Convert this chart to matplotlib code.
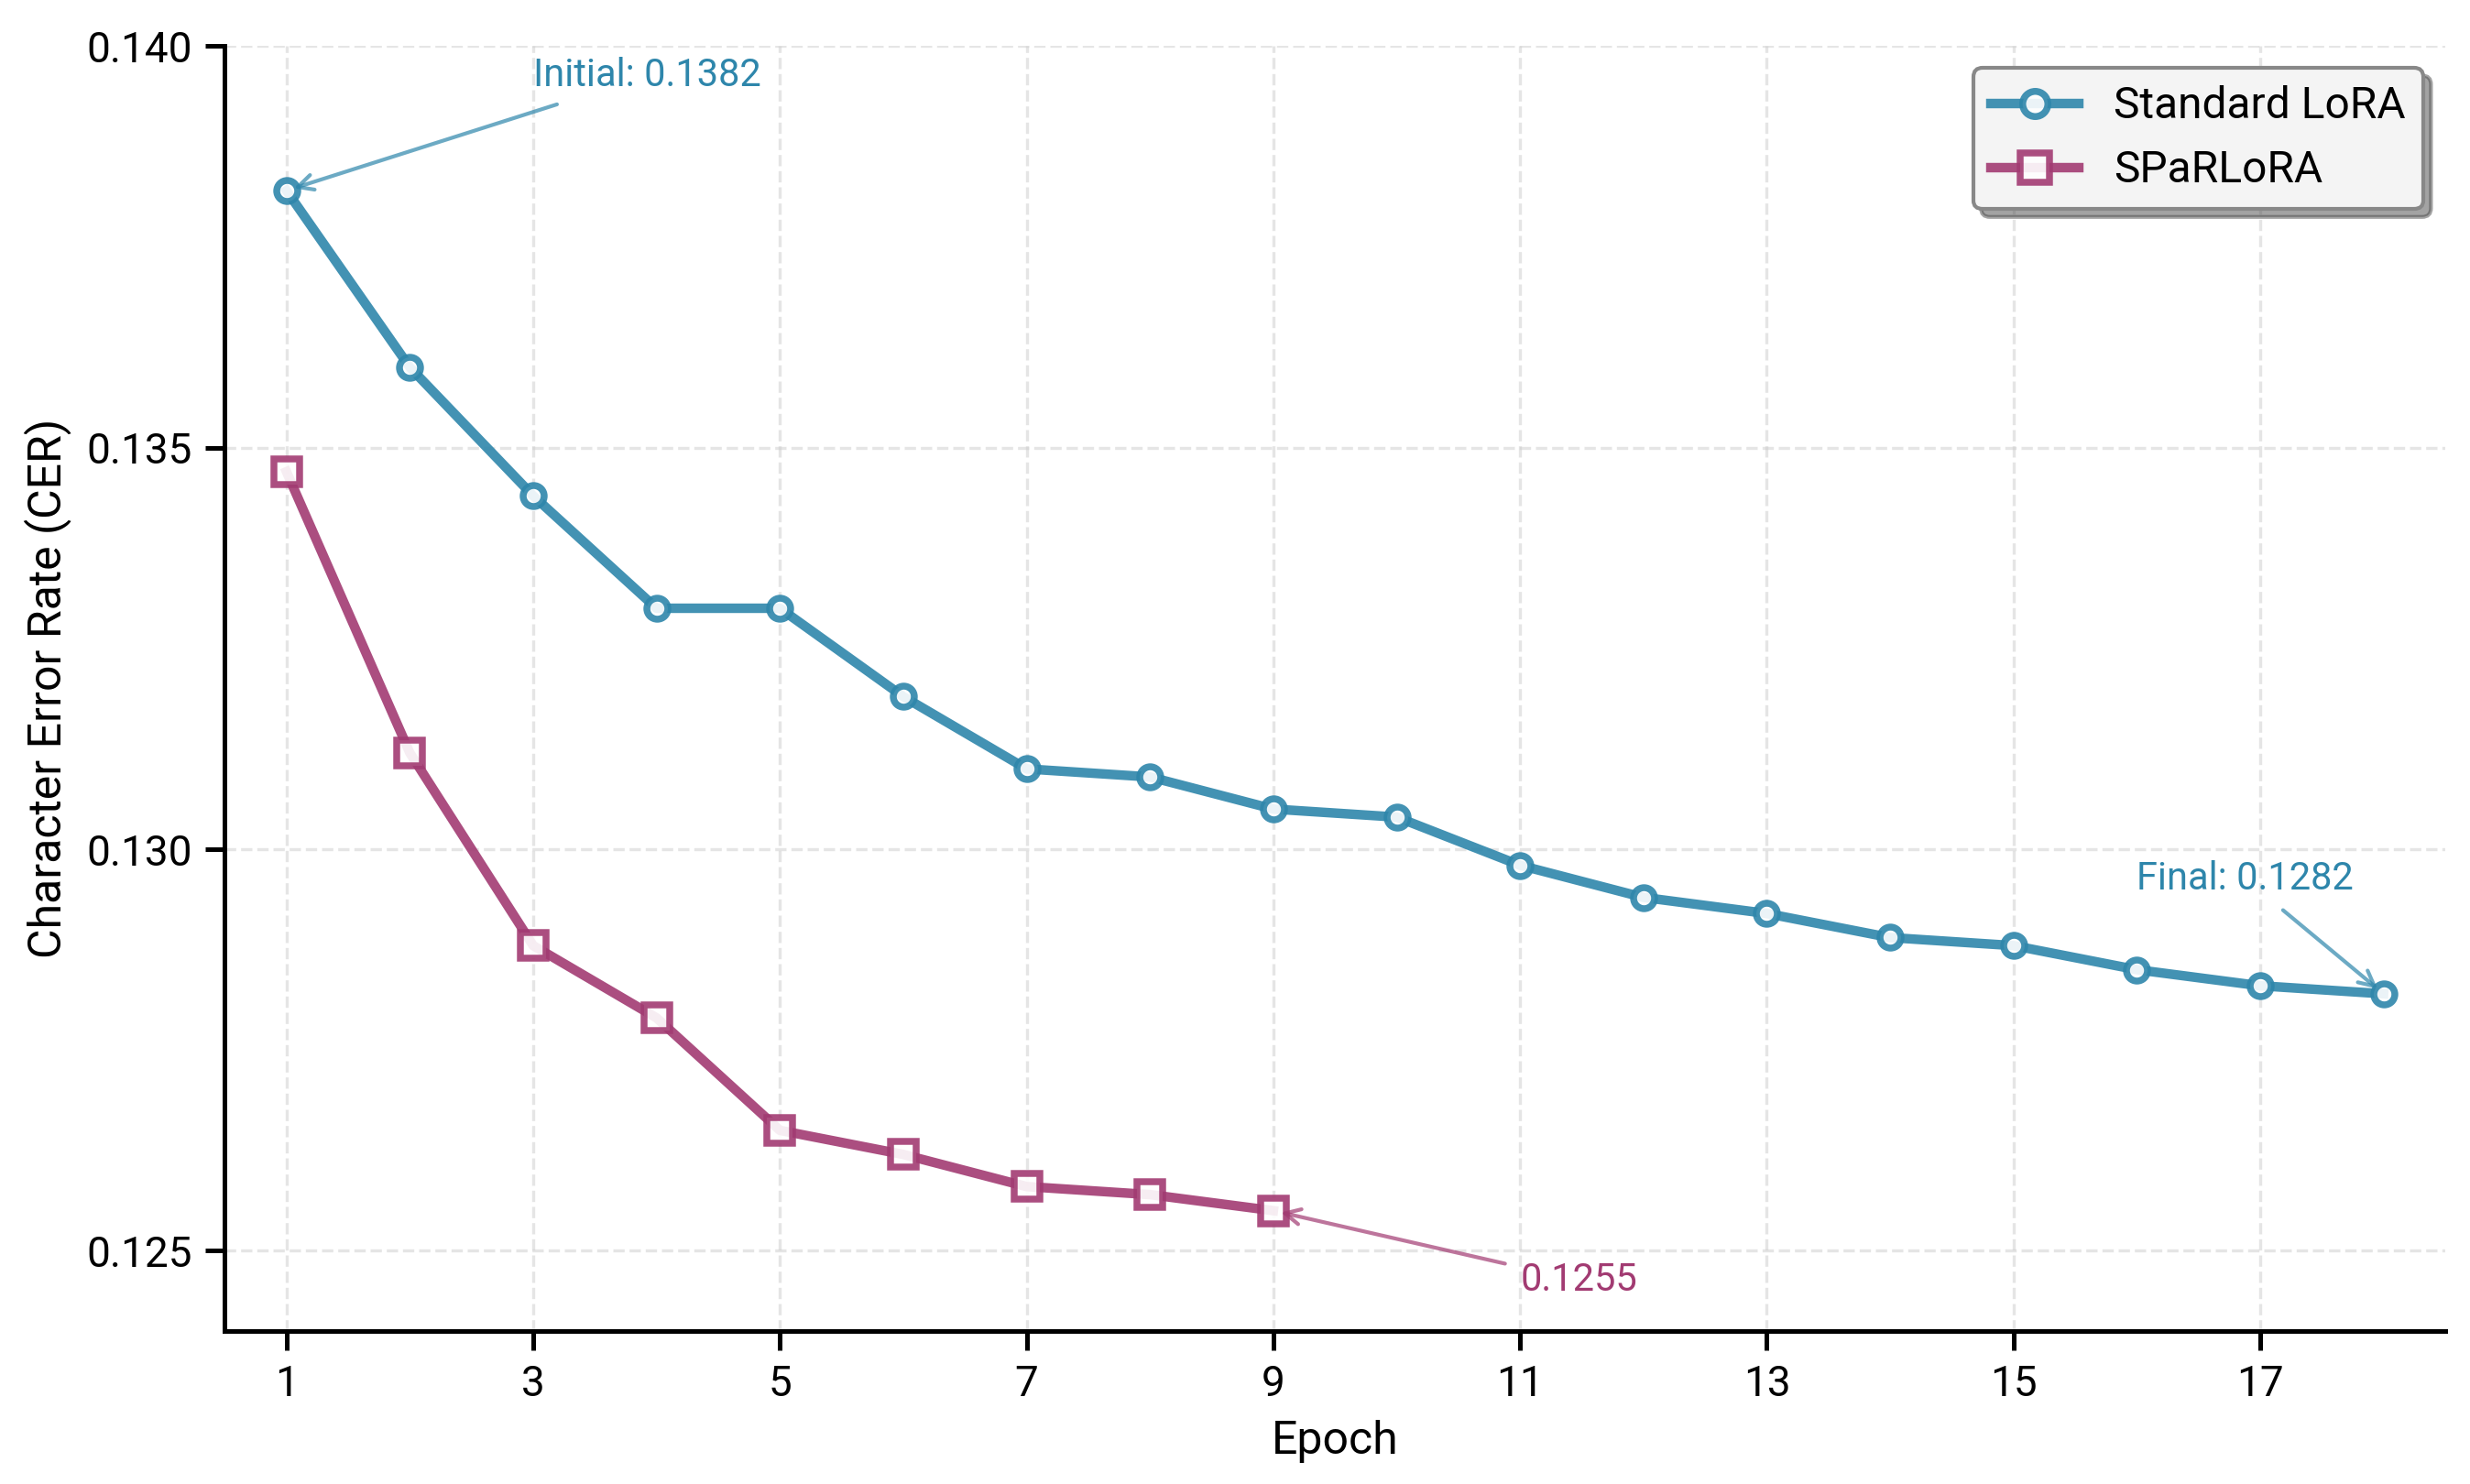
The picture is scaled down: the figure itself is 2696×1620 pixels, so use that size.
import matplotlib.pyplot as plt

plt.rcParams['font.family'] = ['Roboto', 'DejaVu Sans']

# CER per epoch
epochs_lora = list(range(1, 19))
cer_lora = [0.1382, 0.1360, 0.1344, 0.1330, 0.1330, 0.1319, 0.1310, 0.1309, 0.1305,
            0.1304, 0.1298, 0.1294, 0.1292, 0.1289, 0.1288, 0.1285, 0.1283, 0.1282]
epochs_sparlora = list(range(1, 10))
cer_sparlora = [0.1347, 0.1312, 0.1288, 0.1279, 0.1265, 0.1262, 0.1258, 0.1257, 0.1255]

xticks = [1, 3, 5, 7, 9, 11, 13, 15, 17]
yticks = [0.125, 0.130, 0.135, 0.140]

blue = '#2E86AB'
purple = '#A23B72'

fig, ax = plt.subplots(figsize=(2696 / 300, 1620 / 300), dpi=300)
fig.subplots_adjust(left=0.091, right=0.99, top=0.969, bottom=0.103)

ax.plot(epochs_lora, cer_lora, color=blue, marker='o', lw=2.5, markersize=5.5,
        markerfacecolor='white', markeredgewidth=1.8, alpha=0.9, label='Standard LoRA')
ax.plot(epochs_sparlora, cer_sparlora, color=purple, marker='s', lw=2.5, markersize=6.5,
        markerfacecolor='white', markeredgewidth=1.8, alpha=0.9, label='SPaRLoRA')

# annotations
ax.annotate(f'Initial: {cer_lora[0]:.4f}', xy=(epochs_lora[0], cer_lora[0]),
            xytext=(3, 0.1395), fontsize=10, color=blue,
            arrowprops=dict(arrowstyle='->', color=blue, alpha=0.7, lw=1))
ax.annotate(f'Final: {cer_lora[-1]:.4f}', xy=(epochs_lora[-1], cer_lora[-1]),
            xytext=(16, 0.1295), fontsize=10, color=blue,
            arrowprops=dict(arrowstyle='->', color=blue, alpha=0.7, lw=1))
ax.annotate(f'{cer_sparlora[-1]:.4f}', xy=(epochs_sparlora[-1], cer_sparlora[-1]),
            xytext=(11, 0.1245), fontsize=10, color=purple,
            arrowprops=dict(arrowstyle='->', color=purple, alpha=0.7, lw=1))

ax.set_xlim(0.5, 18.5)
ax.set_ylim(0.124, 0.140)
ax.set_xticks(xticks)
ax.set_yticks(yticks)
ax.set_yticklabels([f'{v:.3f}' for v in yticks])
ax.tick_params(labelsize=11, length=5, width=1.2)

ax.set_xlabel('Epoch', fontsize=12)
ax.set_ylabel('Character Error Rate (CER)', fontsize=12)

ax.grid(True, linestyle='--', color='#cccccc', alpha=0.5, lw=0.8)
ax.spines['top'].set_visible(False)
ax.spines['right'].set_visible(False)
ax.spines['left'].set_linewidth(1.2)
ax.spines['bottom'].set_linewidth(1.2)

leg = ax.legend(loc='upper right', fontsize=11.5, frameon=True, fancybox=True,
                shadow=True, framealpha=1.0, facecolor='#f4f4f4', edgecolor='#888888',
                markerscale=1.2)

plt.savefig('out.png', dpi=300)
